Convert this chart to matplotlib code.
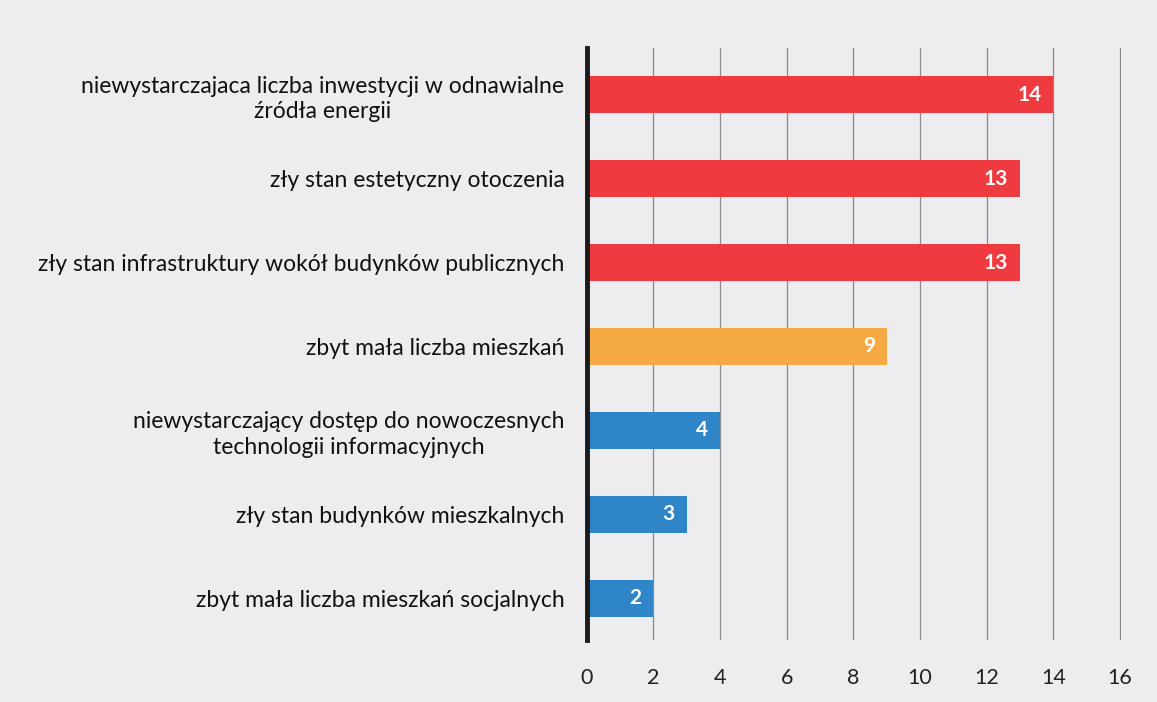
import matplotlib
matplotlib.use("Agg")
import matplotlib.pyplot as plt

# data (top to bottom)
labels = [
    "niewystarczajaca liczba inwestycji w odnawialne\nźródła energii",
    "zły stan estetyczny otoczenia",
    "zły stan infrastruktury wokół budynków publicznych",
    "zbyt mała liczba mieszkań",
    "niewystarczający dostęp do nowoczesnych\ntechnologii informacyjnych",
    "zły stan budynków mieszkalnych",
    "zbyt mała liczba mieszkań socjalnych",
]
values = [14, 13, 13, 9, 4, 3, 2]
colors = ["#EF3A40", "#EF3A40", "#EF3A40", "#F5A945", "#2E86C9", "#2E86C9", "#2E86C9"]
xticks = [0, 2, 4, 6, 8, 10, 12, 14, 16]

plt.rcParams["font.family"] = ["Lato", "DejaVu Sans"]

fig = plt.figure(figsize=(11.57, 7.02), dpi=100)
fig.patch.set_facecolor("#EDECEF")
ax = fig.add_axes([0.507, 0.088, 0.462, 0.844])
ax.set_facecolor("none")

ypos = list(range(len(values)))
ax.barh(ypos, values, height=0.44, color=colors, zorder=3)
for y, v in zip(ypos, values):
    ax.text(v - 0.35, y, str(v), ha="right", va="center", color="white",
            fontsize=15, fontweight="bold", zorder=4)

ax.set_xlim(0, 16.03)
ax.set_ylim(6.5, -0.56)
ax.set_xticks(xticks)
ax.set_xticklabels([str(t) for t in xticks], fontsize=15.5, color="#222222")
ax.set_yticks(ypos)
ax.set_yticklabels(labels, fontsize=16.5, color="#111111")
for t in ax.get_yticklabels():
    t.set_multialignment("center")
    t.set_linespacing(1.25)
ax.tick_params(axis="x", length=0, pad=20)
ax.tick_params(axis="y", length=0, pad=16)

ax.grid(axis="x", color="#8A8A8A", lw=0.9, zorder=1)
ax.grid(axis="y", visible=False)
for s in ["top", "right", "bottom"]:
    ax.spines[s].set_visible(False)
ax.spines["left"].set_linewidth(3.5)
ax.spines["left"].set_color("#1A1A1A")
ax.spines["left"].set_zorder(5)

fig.savefig("out.png", dpi=100, facecolor=fig.get_facecolor())
